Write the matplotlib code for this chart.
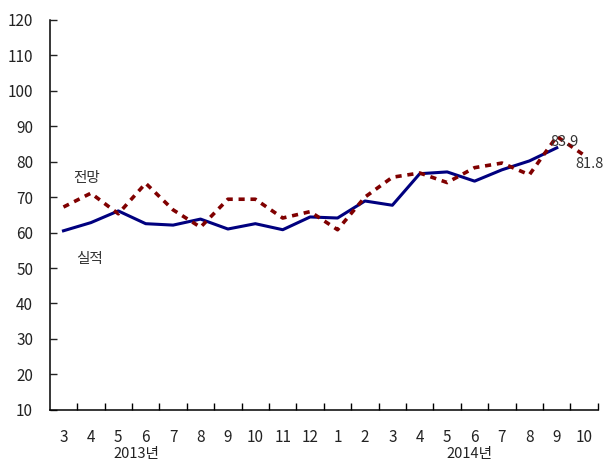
import matplotlib

matplotlib.use("Agg")
import matplotlib.pyplot as plt

plt.rcParams["font.family"] = ["Noto Sans CJK KR", "DejaVu Sans"]

MONTHS = ["3", "4", "5", "6", "7", "8", "9", "10", "11", "12",
          "1", "2", "3", "4", "5", "6", "7", "8", "9", "10"]
ACTUAL = [60.5, 62.8, 66.1, 62.5, 62.1, 63.8, 61.0, 62.5, 60.8, 64.4,
          64.1, 68.9, 67.7, 76.6, 77.1, 74.5, 77.7, 80.2, 83.9]
OUTLOOK = [67.2, 71.1, 65.3, 73.9, 66.4, 61.5, 69.4, 69.4, 64.1, 65.9,
           60.8, 70.0, 75.6, 76.8, 74.1, 78.3, 79.6, 76.3, 87.1, 81.8]
YEARS = [("2013년", 2.67), ("2014년", 14.8)]

fig = plt.figure(figsize=(6.07, 4.61), dpi=100)
ax = fig.add_axes([0.082, 0.111, 0.903, 0.846])

x = list(range(len(MONTHS)))
ax.plot(x[:len(ACTUAL)], ACTUAL, color="#00007f", linewidth=2.2)
ax.plot(x, OUTLOOK, color="#800000", linewidth=2.6, linestyle=(0, (1.7, 1.6)))

ax.set_xlim(-0.5, len(MONTHS) - 0.5)
ax.set_ylim(10, 120)
ax.set_yticks(range(10, 121, 10))
ax.set_xticks([i + 0.5 for i in range(len(MONTHS))])
ax.set_xticklabels([])
ax.set_xticks(x, minor=True)
ax.set_xticklabels(MONTHS, minor=True)
ax.tick_params(axis="x", which="minor", length=0, pad=14, labelsize=11, colors="#222222")
ax.tick_params(axis="x", which="major", direction="in", length=5, width=1)
ax.tick_params(axis="y", direction="in", length=5, width=1, labelsize=11,
               colors="#222222", pad=12)
for s in ("top", "right"):
    ax.spines[s].set_visible(False)
for s in ("left", "bottom"):
    ax.spines[s].set_linewidth(1.1)

for label, pos in YEARS:
    ax.text(pos, -0.113, label, transform=ax.get_xaxis_transform(),
            ha="center", va="center", fontsize=10.5, color="#222222")

ax.text(0.85, 75.5, "전망", ha="center", va="center", fontsize=10.5, color="#333333")
ax.text(0.95, 52.6, "실적", ha="center", va="center", fontsize=10.5, color="#333333")
ax.text(18.28, 85.6, f"{ACTUAL[-1]:.1f}", ha="center", va="center", fontsize=10.5, color="#333333")
ax.text(19.2, 79.2, f"{OUTLOOK[-1]:.1f}", ha="center", va="center", fontsize=10.5, color="#333333")

fig.savefig("out.png", dpi=100)
